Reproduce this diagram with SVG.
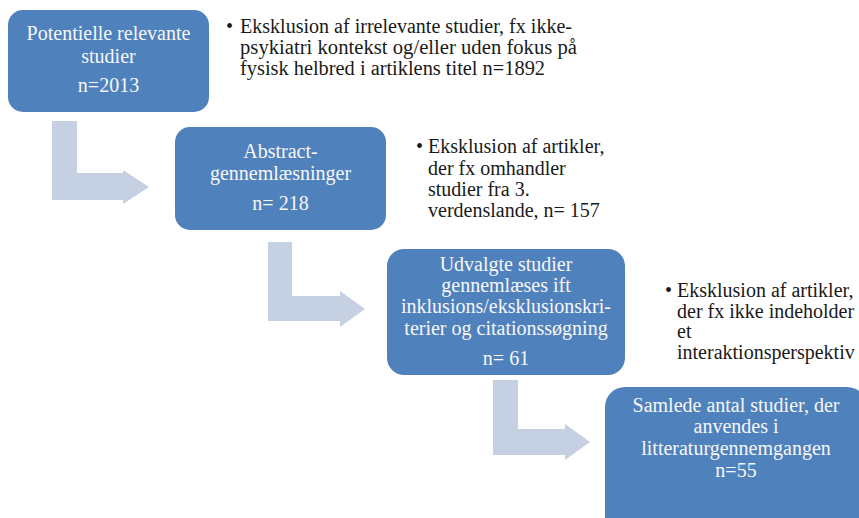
<svg xmlns="http://www.w3.org/2000/svg" width="859" height="518" viewBox="0 0 859 518">
<style>
.box{fill:#4f81bd;}
.arrow{fill:#c5d0e2;}
.bt{font-family:"Liberation Serif","Times New Roman",serif;font-size:20px;fill:#f7f7f7;text-anchor:middle;}
.tx{font-family:"Liberation Serif","Times New Roman",serif;font-size:20px;fill:#1a1a1a;}
</style>
<rect width="859" height="518" fill="#ffffff"/>
<g id="connectors">
<polygon class="arrow" points="52,121 77,121 77,173 123,173 123,170 149,187 123,204 123,200 52,200"/>
<polygon class="arrow" points="268,242 292,242 292,296 340,296 340,291 365,309 340,327 340,321 268,321"/>
<polygon class="arrow" points="493,380 518,380 518,429 565,429 565,424 590,442 565,460 565,455 493,455"/>
</g>
<g id="node1">
<rect class="box" x="8" y="10" width="201" height="102" rx="15"/>
<text class="bt" x="108.5" y="40">Potentielle relevante</text>
<text class="bt" x="108.5" y="63">studier</text>
<text class="bt" x="108.5" y="92">n=2013</text>
</g>
<g id="note1">
<text class="tx" x="226" y="33">•</text>
<text class="tx" x="240" y="33" textLength="332" lengthAdjust="spacingAndGlyphs">Eksklusion af irrelevante studier, fx ikke-</text>
<text class="tx" x="240" y="54" textLength="337" lengthAdjust="spacingAndGlyphs">psykiatri kontekst og/eller uden fokus på</text>
<text class="tx" x="240" y="75" textLength="305" lengthAdjust="spacingAndGlyphs">fysisk helbred i artiklens titel n=1892</text>
</g>
<g id="node2">
<rect class="box" x="175" y="127" width="211" height="103" rx="15"/>
<text class="bt" x="280.5" y="158">Abstract-</text>
<text class="bt" x="280.5" y="180">gennemlæsninger</text>
<text class="bt" x="280.5" y="210">n= 218</text>
</g>
<g id="note2">
<text class="tx" x="416" y="153">•</text>
<text class="tx" x="428" y="153">Eksklusion af artikler,</text>
<text class="tx" x="428" y="175">der fx omhandler</text>
<text class="tx" x="428" y="196">studier fra 3.</text>
<text class="tx" x="428" y="217">verdenslande, n= 157</text>
</g>
<g id="node3">
<rect class="box" x="387" y="249" width="238" height="126" rx="17"/>
<text class="bt" x="506" y="271">Udvalgte studier</text>
<text class="bt" x="506" y="292">gennemlæses ift</text>
<text class="bt" x="506" y="313">inklusions/eksklusionskri-</text>
<text class="bt" x="506" y="335">terier og citationssøgning</text>
<text class="bt" x="506" y="365">n= 61</text>
</g>
<g id="note3">
<text class="tx" x="665" y="297">•</text>
<text class="tx" x="677" y="297">Eksklusion af artikler,</text>
<text class="tx" x="677" y="318">der fx ikke indeholder</text>
<text class="tx" x="677" y="338">et</text>
<text class="tx" x="677" y="359">interaktionsperspektiv</text>
</g>
<g id="node4">
<rect class="box" x="605" y="387" width="262" height="150" rx="20"/>
<text class="bt" x="736" y="412">Samlede antal studier, der</text>
<text class="bt" x="736" y="433">anvendes i</text>
<text class="bt" x="736" y="455">litteraturgennemgangen</text>
<text class="bt" x="736" y="477">n=55</text>
</g>
</svg>
